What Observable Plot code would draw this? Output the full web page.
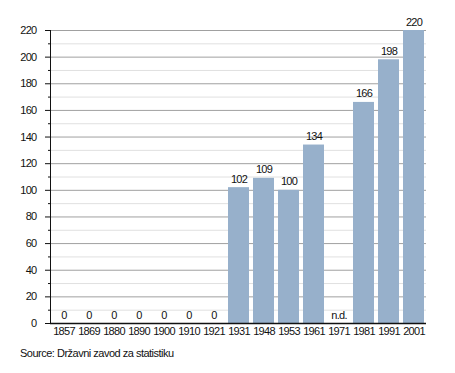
<!DOCTYPE html>
<html>
<head>
<meta charset="utf-8">
<script src="https://cdn.jsdelivr.net/npm/d3@7"></script>
<script src="https://cdn.jsdelivr.net/npm/@observablehq/plot@0.6"></script>
<style>
  html, body { margin: 0; padding: 0; background: #fff; }
  body { width: 455px; height: 373px; font-family: "Liberation Sans", Arial, sans-serif; }
  svg text { letter-spacing: -0.7px; }
  #caption { font-size: 11px; color: #111; padding-left: 20px; margin-top: 5px; line-height: 13px; letter-spacing: -0.5px; }
</style>
</head>
<body>
<div id="chart"></div>
<div id="caption">Source: Državni zavod za statistiku</div>
<script>
const years = ["1857","1869","1880","1890","1900","1910","1921","1931","1948","1953","1961","1971","1981","1991","2001"];
const values = [0, 0, 0, 0, 0, 0, 0, 102, 109, 100, 134, null, 166, 198, 220];
const majorTicks = [0, 20, 40, 60, 80, 100, 120, 140, 160, 180, 200, 220];
const minorTicks = [10, 30, 50, 70, 90, 110, 130, 150, 170, 190, 210];

const data = years.map((year, i) => ({
  year,
  value: values[i],
  label: values[i] == null ? "n.d." : String(values[i])
}));

const chart = Plot.plot({
  width: 455,
  height: 342,
  marginLeft: 50,
  marginRight: 29,
  marginTop: 30,
  marginBottom: 19,
  style: { fontFamily: "'Liberation Sans', Arial, sans-serif", fontSize: "11px", color: "#111", background: "#fff" },
  x: { domain: years, paddingInner: 0.17, paddingOuter: 0, axis: null, label: null },
  y: { domain: [0, 220], axis: null, label: null },
  marks: [
    Plot.gridY(minorTicks, { stroke: "#e0e0e0", strokeOpacity: 1 }),
    Plot.gridY(majorTicks, { stroke: "#a0a0a0", strokeOpacity: 1 }),
    Plot.barY(data.filter(d => d.value != null), { x: "year", y: "value", fill: "#97b0cb" }),
    Plot.text(data, { x: "year", y: d => d.value ?? 0, text: "label", lineAnchor: "bottom", dy: -5, fill: "#111", fontSize: 11 }),
    Plot.axisY(minorTicks, { tickSize: 2, text: null, stroke: "#111", label: null }),
    Plot.axisY(majorTicks, { tickSize: 5, tickPadding: 9, stroke: "#111", fill: "#111", fontSize: 11, label: null }),
    Plot.axisX({ tickSize: 0, tickPadding: 4, fill: "#111", fontSize: 11, label: null }),
    Plot.frame({ anchor: "left", stroke: "#111" }),
    Plot.ruleY([0], { stroke: "#111", strokeWidth: 1.3 })
  ]
});
document.getElementById("chart").appendChild(chart);
</script>
</body>
</html>
